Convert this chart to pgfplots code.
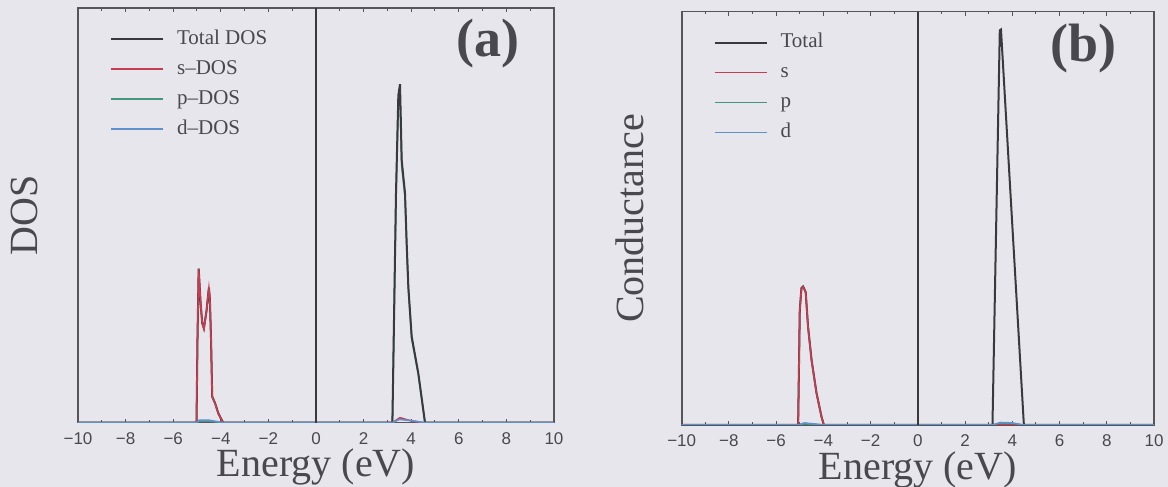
\documentclass[border=0pt]{standalone}
\usepackage{fontspec}
\setmainfont{Liberation Serif}
\newfontfamily\tickfont{Liberation Sans}
\usepackage{pgfplots}
\pgfplotsset{compat=1.18}
\definecolor{bg}{RGB}{230,230,236}
\definecolor{txt}{RGB}{72,72,78}
\definecolor{tot}{RGB}{58,58,62}
\definecolor{sred}{RGB}{200,60,80}
\definecolor{pgreen}{RGB}{70,150,125}
\definecolor{dblue}{RGB}{95,145,205}
\definecolor{axc}{RGB}{85,85,90}

\pgfplotsset{
  myax/.style={
    scale only axis,
    xmin=-10, xmax=10, ymin=0, ymax=1,
    xtick={-10,-8,...,10},
    xticklabels={−10,−8,−6,−4,−2,0,2,4,6,8,10},
    minor x tick num=1,
    ytick=\empty,
    tick align=inside,
    xtick pos=both,
    major tick length=2pt, minor tick length=1.3pt,
    axis line style={axc, line width=0.8pt},
    every tick/.style={axc, line width=0.5pt},
    tick label style={font=\tickfont\fontsize{8.5}{10}\selectfont, text=txt},
    xticklabel style={anchor=base, yshift=-10.8pt, inner sep=0pt},
    label style={font=\fontsize{20}{24}\selectfont, text=txt},
    xlabel={Energy (eV)},
    legend cell align=left,
    legend image code/.code={\draw[#1] (0pt,0pt) -- (26pt,0pt);},
    legend style={draw=none, fill=none, text=txt,
      font=\fontsize{10.5}{12}\selectfont,
      row sep=5pt,
      nodes={inner sep=0pt, text height=7.5pt, text depth=2.5pt},
      /tikz/every odd column/.style={column sep=6.5pt},
      at={(axis description cs:0.054,0.96)}, anchor=north west},
  },
  totst/.style={tot, line width=1.0pt},
  sst/.style={sred, line width=0.8pt},
  pst/.style={pgreen, line width=0.8pt},
  dst/.style={dblue, line width=0.8pt},
}

\begin{document}
\begin{tikzpicture}
\path[use as bounding box, fill=bg] (0pt,0pt) rectangle (584pt,243.5pt);

% ---------------- panel (a) ----------------
\begin{axis}[myax, at={(39pt,32.15pt)}, anchor=south west,
  width=238pt, height=207.2pt,
  xlabel style={at={(axis description cs:0.5,-0.129)}, anchor=base, inner sep=0pt},
  ylabel={DOS},
  ylabel style={at={(axis description cs:-0.113,0.5)}, anchor=center}]
\addlegendimage{totst}
\addlegendentry{Total DOS}
\addlegendimage{sst}
\addlegendentry{s--DOS}
\addlegendimage{pst}
\addlegendentry{p--DOS}
\addlegendimage{dst}
\addlegendentry{d--DOS}
% p-DOS (under the total)
\addplot[pst, forget plot] coordinates {
 (-10,0) (-5.02,0) (-4.9,0.004) (-4.5,0.004) (-3.90,0)
 (3.21,0) (3.36,0.54) (3.46,0.78) (3.52,0.80) (3.57,0.70) (3.60,0.62)
 (3.74,0.545) (3.81,0.425) (3.88,0.322) (4.02,0.203) (4.30,0.116) (4.58,0) (10,0)};
% Total DOS
\addplot[totst, forget plot] coordinates {
 (-10,0) (-5.02,0) (-4.98,0.20) (-4.93,0.372) (-4.85,0.29) (-4.78,0.24)
 (-4.71,0.228) (-4.60,0.27) (-4.50,0.326) (-4.46,0.30) (-4.41,0.20)
 (-4.36,0.063) (-4.24,0.047) (-4.10,0.022) (-3.90,0)
 (3.21,0) (3.36,0.55) (3.46,0.79) (3.53,0.817) (3.57,0.714) (3.60,0.634)
 (3.74,0.554) (3.81,0.433) (3.88,0.328) (4.02,0.208) (4.30,0.119) (4.58,0) (10,0)};
% s-DOS
\addplot[sst, forget plot] coordinates {
 (-10,0) (-5.02,0) (-4.98,0.20) (-4.93,0.370) (-4.85,0.29) (-4.78,0.24)
 (-4.71,0.226) (-4.60,0.27) (-4.50,0.324) (-4.46,0.30) (-4.41,0.20)
 (-4.36,0.062) (-4.24,0.046) (-4.10,0.021) (-3.90,0)
 (3.21,0) (3.53,0.012) (4.02,0.004) (4.58,0) (10,0)};
% d-DOS
\addplot[dst, forget plot] coordinates {
 (-10,0) (-5.02,0) (-4.9,0.006) (-4.5,0.006) (-3.90,0)
 (3.21,0) (3.5,0.008) (4.0,0.005) (4.58,0) (10,0)};
\addplot[forget plot, tot, line width=0.7pt] coordinates {(0,0) (0,1)};
\node[font=\bfseries\fontsize{27}{32}\selectfont, text=txt] at (rel axis cs:0.861,0.915) {(a)};
\end{axis}

% ---------------- panel (b) ----------------
\begin{axis}[myax, at={(340.85pt,31pt)}, anchor=south west,
  width=236.15pt, height=206.65pt,
  xlabel style={at={(axis description cs:0.5,-0.132)}, anchor=base, inner sep=0pt},
  ylabel={Conductance},
  ylabel style={at={(axis description cs:-0.109,0.5)}, anchor=center}]
\addlegendimage{totst}
\addlegendentry{Total}
\addlegendimage{sst}
\addlegendentry{s}
\addlegendimage{pst}
\addlegendentry{p}
\addlegendimage{dst}
\addlegendentry{d}
% p
\addplot[pst, forget plot] coordinates {
 (-10,0) (-5.07,0) (-4.8,0.003) (-3.98,0) (3.16,0) (3.5,0.004) (4.49,0) (10,0)};
% Total
\addplot[totst, forget plot] coordinates {
 (-10,0) (-5.07,0) (-5.00,0.278) (-4.93,0.331) (-4.86,0.335) (-4.75,0.322)
 (-4.65,0.238) (-4.50,0.157) (-4.29,0.077) (-4.08,0.02) (-3.98,0)
 (3.16,0) (3.47,0.955) (3.52,0.957) (4.49,0) (10,0)};
% s
\addplot[sst, forget plot] coordinates {
 (-10,0) (-5.07,0) (-5.00,0.277) (-4.93,0.330) (-4.86,0.334) (-4.75,0.321)
 (-4.65,0.237) (-4.50,0.156) (-4.29,0.076) (-4.08,0.02) (-3.98,0) (10,0)};
% d
\addplot[dst, forget plot] coordinates {
 (-10,0) (-5.07,0) (-4.8,0.005) (-3.98,0) (3.16,0) (3.5,0.006) (4.0,0.005) (4.49,0) (10,0)};
\addplot[forget plot, tot, line width=0.7pt] coordinates {(0,0) (0,1)};
\node[font=\bfseries\fontsize{27}{32}\selectfont, text=txt] at (rel axis cs:0.85,0.912) {(b)};
\end{axis}
\end{tikzpicture}
\end{document}
